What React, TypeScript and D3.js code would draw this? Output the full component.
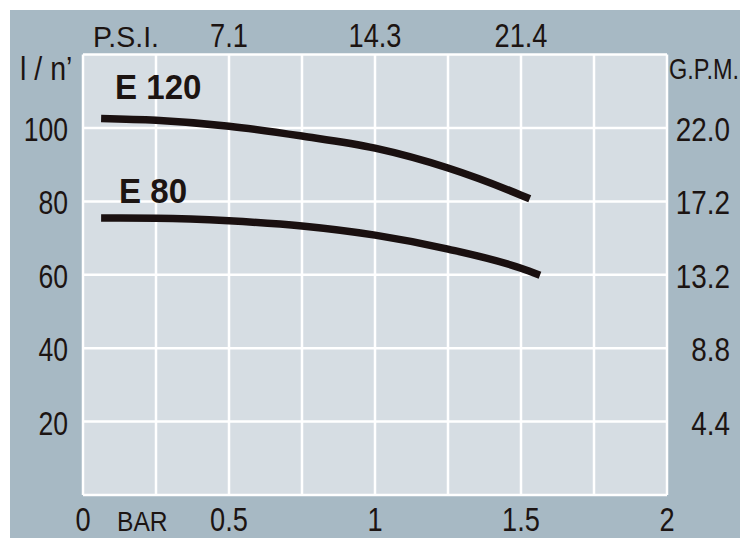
import React from "react";
import * as d3 from "d3";

const barTicks = [0, 0.5, 1, 1.5, 2];
const barTickLabels = ["0", "0.5", "1", "1.5", "2"];
const psiTicks = [0.5, 1, 1.5];
const psiTickLabels = ["7.1", "14.3", "21.4"];
const flowTicks = [20, 40, 60, 80, 100];
const flowTickLabels = ["20", "40", "60", "80", "100"];
const gpmTickLabels = ["4.4", "8.8", "13.2", "17.2", "22.0"];
const gridX = [0, 0.25, 0.5, 0.75, 1, 1.25, 1.5, 1.75, 2];
const gridY = [0, 20, 40, 60, 80, 100, 120];

const e120Bar = [0.062, 0.25, 0.5, 0.75, 1.0, 1.25, 1.5, 1.53];
const e120Flow = [102.6, 102.1, 100.5, 97.8, 94.5, 89.1, 81.7, 80.7];
const e80Bar = [0.062, 0.25, 0.5, 0.75, 1.0, 1.25, 1.5, 1.565];
const e80Flow = [75.5, 75.4, 74.7, 73.3, 70.8, 67.0, 61.8, 59.9];

const FONT = "'Liberation Sans', Arial, sans-serif";
const TEXT = "#1c1412";

function T({ x, y, s, size, sx = 0.78, anchor = "start", weight = "normal" }: any) {
  return (
    <text
      transform={`translate(${x},${y}) scale(${sx},1)`}
      fontSize={size}
      fontFamily={FONT}
      fontWeight={weight}
      textAnchor={anchor}
      fill={TEXT}
    >
      {s}
    </text>
  );
}

export default function App() {
  const x = d3.scaleLinear().domain([0, 2]).range([83, 667]);
  const y = d3.scaleLinear().domain([0, 120]).range([495, 54.6]);
  const line = d3
    .line<[number, number]>()
    .x((d) => x(d[0]))
    .y((d) => y(d[1]))
    .curve(d3.curveMonotoneX);
  const e120 = e120Bar.map((b, i) => [b, e120Flow[i]] as [number, number]);
  const e80 = e80Bar.map((b, i) => [b, e80Flow[i]] as [number, number]);

  return (
    <svg
      width={754}
      height={550}
      style={{ position: "absolute", left: 0, top: 0, display: "block" }}
    >
      <rect x={0} y={0} width={754} height={550} fill="#ffffff" />
      <rect x={10} y={10} width={730} height={528} fill="#a7b9c4" />
      <rect
        x={x(0)}
        y={y(120)}
        width={x(2) - x(0)}
        height={y(0) - y(120)}
        fill="#d6dde3"
      />
      {gridX.map((g) => (
        <line
          key={"gx" + g}
          x1={x(g)}
          x2={x(g)}
          y1={y(120)}
          y2={y(0)}
          stroke="#ffffff"
          strokeWidth={2.5}
        />
      ))}
      {gridY.map((g) => (
        <line
          key={"gy" + g}
          x1={x(0)}
          x2={x(2)}
          y1={y(g)}
          y2={y(g)}
          stroke="#ffffff"
          strokeWidth={2.5}
        />
      ))}
      <path d={line(e120) || ""} fill="none" stroke="#1a1010" strokeWidth={7.5} />
      <path d={line(e80) || ""} fill="none" stroke="#1a1010" strokeWidth={7.5} />

      <T x={115} y={99} s="E 120" size={36} sx={0.92} weight="bold" />
      <T x={119} y={203} s="E 80" size={36} sx={0.92} weight="bold" />

      <T x={93} y={47} s="P.S.I." size={30} sx={0.95} />
      {psiTicks.map((t, i) => (
        <T key={"p" + t} x={x(t)} y={47} s={psiTickLabels[i]} size={34} anchor="middle" sx={0.8} />
      ))}
      <T x={20} y={80} s="l / n’" size={34} sx={0.84} />
      {flowTicks.map((t, i) => (
        <T key={"f" + t} x={68} y={y(t) + 13} s={flowTickLabels[i]} size={34} anchor="end" sx={0.78} />
      ))}
      <T x={669} y={79} s="G.P.M." size={29} sx={0.81} />
      {flowTicks.map((t, i) => (
        <T key={"g" + t} x={730} y={y(t) + 13} s={gpmTickLabels[i]} size={34} anchor="end" sx={0.82} />
      ))}
      {barTicks.map((t, i) => (
        <T key={"b" + t} x={x(t)} y={531} s={barTickLabels[i]} size={34} anchor="middle" sx={0.8} />
      ))}
      <T x={117} y={531} s="BAR" size={28} sx={0.88} />
    </svg>
  );
}
